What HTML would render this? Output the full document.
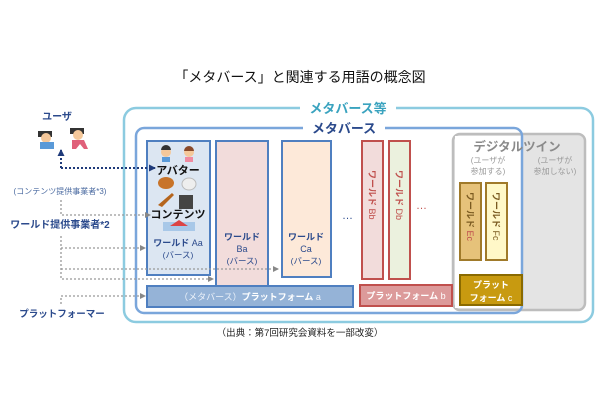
<!DOCTYPE html>
<html><head><meta charset="utf-8"><style>
html,body{margin:0;padding:0;background:#fff;width:600px;height:400px;overflow:hidden}
svg{display:block}
text{font-family:"Liberation Sans","Noto Sans CJK JP",sans-serif}
</style></head><body>
<svg width="600" height="400" viewBox="0 0 600 400" xmlns="http://www.w3.org/2000/svg">
<defs>
<marker id="an" markerUnits="userSpaceOnUse" markerWidth="7" markerHeight="7" refX="6" refY="3.5" orient="auto"><path d="M0,0 L7,3.5 L0,7z" fill="#1f3a7a"/></marker>
<marker id="ag" markerUnits="userSpaceOnUse" markerWidth="6" markerHeight="6" refX="5" refY="3" orient="auto"><path d="M0,0 L6,3 L0,6z" fill="#888"/></marker>
</defs>
<text x="300" y="82" text-anchor="middle" font-size="14" fill="#111">「メタバース」と関連する用語の概念図</text>
<rect x="124" y="108" width="469" height="214" rx="12" fill="none" stroke="#8ccbe0" stroke-width="2.5"/>
<rect x="300" y="100" width="96" height="16" fill="#fff"/>
<text x="348" y="113" text-anchor="middle" font-size="13" font-weight="bold" fill="#3aa3bf">メタバース等</text>
<rect x="453" y="134" width="132" height="176" rx="7" fill="#e4e4e4" stroke="#bdbdbd" stroke-width="2.5"/>
<rect x="455" y="136" width="66" height="172" fill="#fff"/>
<rect x="136" y="128" width="386" height="185" rx="8" fill="none" stroke="#7aa6db" stroke-width="2.5"/>
<rect x="303" y="120" width="82" height="16" fill="#fff"/>
<text x="344" y="133" text-anchor="middle" font-size="13" font-weight="bold" fill="#2b4a8c">メタバース</text>
<text x="517" y="151" text-anchor="middle" font-size="12.5" font-weight="bold" fill="#8a8a8a">デジタルツイン</text>
<text x="488" y="163" text-anchor="middle" font-size="8" fill="#999">(ユーザが</text>
<text x="488" y="174" text-anchor="middle" font-size="8" fill="#999">参加する)</text>
<text x="555" y="163" text-anchor="middle" font-size="8" fill="#999">(ユーザが</text>
<text x="555" y="174" text-anchor="middle" font-size="8" fill="#999">参加しない)</text>
<rect x="216" y="141" width="52" height="146" fill="#f2dcdb" stroke="#4f7fc0" stroke-width="2"/>
<rect x="147" y="141" width="63" height="134" fill="#dce6f2" stroke="#4f7fc0" stroke-width="2"/>
<rect x="282" y="141" width="49" height="136" fill="#fde9d9" stroke="#4f7fc0" stroke-width="2"/>
<text x="342" y="219" font-size="11" fill="#2b4a8c">…</text>
<rect x="362" y="141" width="21" height="138" fill="#f2dcdb" stroke="#c0504d" stroke-width="2"/>
<rect x="389" y="141" width="21" height="138" fill="#ebf1de" stroke="#c0504d" stroke-width="2"/>
<text x="416" y="209" font-size="11" fill="#c0504d">…</text>
<rect x="460" y="183" width="21" height="77" fill="#e6c27a" stroke="#a07a2a" stroke-width="2"/>
<rect x="486" y="183" width="21" height="77" fill="#fff8c8" stroke="#a07a2a" stroke-width="2"/>
<g font-size="9" font-weight="bold">
<text transform="translate(369,170) rotate(90)" fill="#c0504d">ワールド <tspan font-weight="normal">Bb</tspan></text>
<text transform="translate(396,170) rotate(90)" fill="#c0504d">ワールド <tspan font-weight="normal">Db</tspan></text>
<text transform="translate(467,192) rotate(90)" fill="#7a5a20">ワールド <tspan font-weight="normal" fill="#c0504d">Ec</tspan></text>
<text transform="translate(493,192) rotate(90)" fill="#7a5a20">ワールド <tspan font-weight="normal">Fc</tspan></text>
</g>
<circle cx="166" cy="152" r="5" fill="#f5c89a"/><path d="M161,150 a5,5 0 0 1 10,0z" fill="#333"/><rect x="162" y="157" width="8" height="5" fill="#5a9ad8"/>
<circle cx="189" cy="152" r="5" fill="#f5c89a"/><path d="M184,151 a5,5 0 0 1 10,0z" fill="#8a4a2a"/><rect x="185" y="157" width="8" height="5" fill="#f08aa0"/>
<text x="178" y="174" text-anchor="middle" font-size="11" font-weight="bold" fill="#111">アバター</text>
<ellipse cx="166" cy="183" rx="8" ry="6" fill="#c8742a"/><ellipse cx="189" cy="184" rx="7" ry="6" fill="#eee" stroke="#bbb"/>
<path d="M158,205 l14,-12 l2,2 l-12,12z" fill="#b5651d"/><rect x="179" y="195" width="14" height="14" fill="#444"/>
<text x="178" y="218" text-anchor="middle" font-size="11" font-weight="bold" fill="#111">コンテンツ</text>
<rect x="163" y="222" width="32" height="9" fill="#a8c8e8"/><path d="M170,226 l9,-6 l9,6z" fill="#d44"/>
<text x="178" y="246" text-anchor="middle" font-size="9" fill="#2b4a8c"><tspan font-weight="bold">ワールド</tspan> Aa</text>
<text x="178" y="258" text-anchor="middle" font-size="8.5" fill="#2b4a8c">(バース)</text>
<g text-anchor="middle" fill="#2b4a8c">
<text x="242" y="240" font-size="9" font-weight="bold">ワールド</text>
<text x="242" y="252" font-size="9">Ba</text>
<text x="242" y="264" font-size="8.5">(バース)</text>
<text x="306" y="240" font-size="9" font-weight="bold">ワールド</text>
<text x="306" y="252" font-size="9">Ca</text>
<text x="306" y="264" font-size="8.5">(バース)</text>
</g>
<rect x="147" y="286" width="206" height="21" fill="#95b3d7" stroke="#4f7fc0" stroke-width="2"/>
<text x="250" y="300" text-anchor="middle" font-size="9" fill="#eef3fa">（メタバース）<tspan font-weight="bold" fill="#fff">プラットフォーム</tspan> a</text>
<rect x="360" y="285" width="92" height="21" fill="#dc9a9a" stroke="#c0504d" stroke-width="2"/>
<text x="406" y="299" text-anchor="middle" font-size="9" fill="#fff" font-weight="bold">プラットフォーム <tspan font-weight="normal">b</tspan></text>
<rect x="460" y="275" width="62" height="30" fill="#c89a10" stroke="#8a6a00" stroke-width="2"/>
<text x="491" y="288" text-anchor="middle" font-size="9" fill="#fff" font-weight="bold">プラット</text>
<text x="491" y="301" text-anchor="middle" font-size="9" fill="#fff" font-weight="bold">フォーム <tspan font-weight="normal">c</tspan></text>
<text x="57" y="120" text-anchor="middle" font-size="10" font-weight="bold" fill="#2b4a8c">ユーザ</text>
<rect x="38" y="131" width="14" height="6" fill="#333"/><circle cx="46" cy="138" r="5" fill="#f5c89a"/><rect x="40" y="142" width="14" height="7" fill="#5a9ad8"/>
<rect x="70" y="128" width="14" height="6" fill="#333"/><circle cx="78" cy="135" r="5" fill="#f5c89a"/><path d="M72,140 h12 l4,9 h-4 l-4,-5 l-4,5 h-4z" fill="#e0607a"/>
<line x1="61" y1="168" x2="61" y2="150" stroke="#1f3a7a" stroke-width="2" stroke-dasharray="2,2" marker-end="url(#an)"/>
<line x1="61" y1="168" x2="155" y2="168" stroke="#1f3a7a" stroke-width="2" stroke-dasharray="2,2" marker-end="url(#an)"/>
<text x="60" y="194" text-anchor="middle" font-size="8" fill="#4a6aa0">(コンテンツ提供事業者*3)</text>
<polyline points="61,200 61,215 150,215" fill="none" stroke="#999" stroke-width="1.3" stroke-dasharray="2,2" marker-end="url(#ag)"/>
<text x="60" y="228" text-anchor="middle" font-size="10" font-weight="bold" fill="#2b4a8c">ワールド提供事業者*2</text>
<polyline points="61,236 61,279 213,279" fill="none" stroke="#999" stroke-width="1.3" stroke-dasharray="2,2" marker-end="url(#ag)"/>
<line x1="61" y1="248" x2="145" y2="248" stroke="#999" stroke-width="1.3" stroke-dasharray="2,2" marker-end="url(#ag)"/>
<line x1="61" y1="269" x2="278" y2="269" stroke="#999" stroke-width="1.3" stroke-dasharray="2,2" marker-end="url(#ag)"/>
<polyline points="61,304 61,296 145,296" fill="none" stroke="#999" stroke-width="1.3" stroke-dasharray="2,2" marker-end="url(#ag)"/>
<text x="62" y="317" text-anchor="middle" font-size="9.5" font-weight="bold" fill="#2b4a8c">プラットフォーマー</text>
<text x="300" y="336" text-anchor="middle" font-size="9.5" fill="#222">（出典：第7回研究会資料を一部改変）</text>
</svg>
</body></html>
